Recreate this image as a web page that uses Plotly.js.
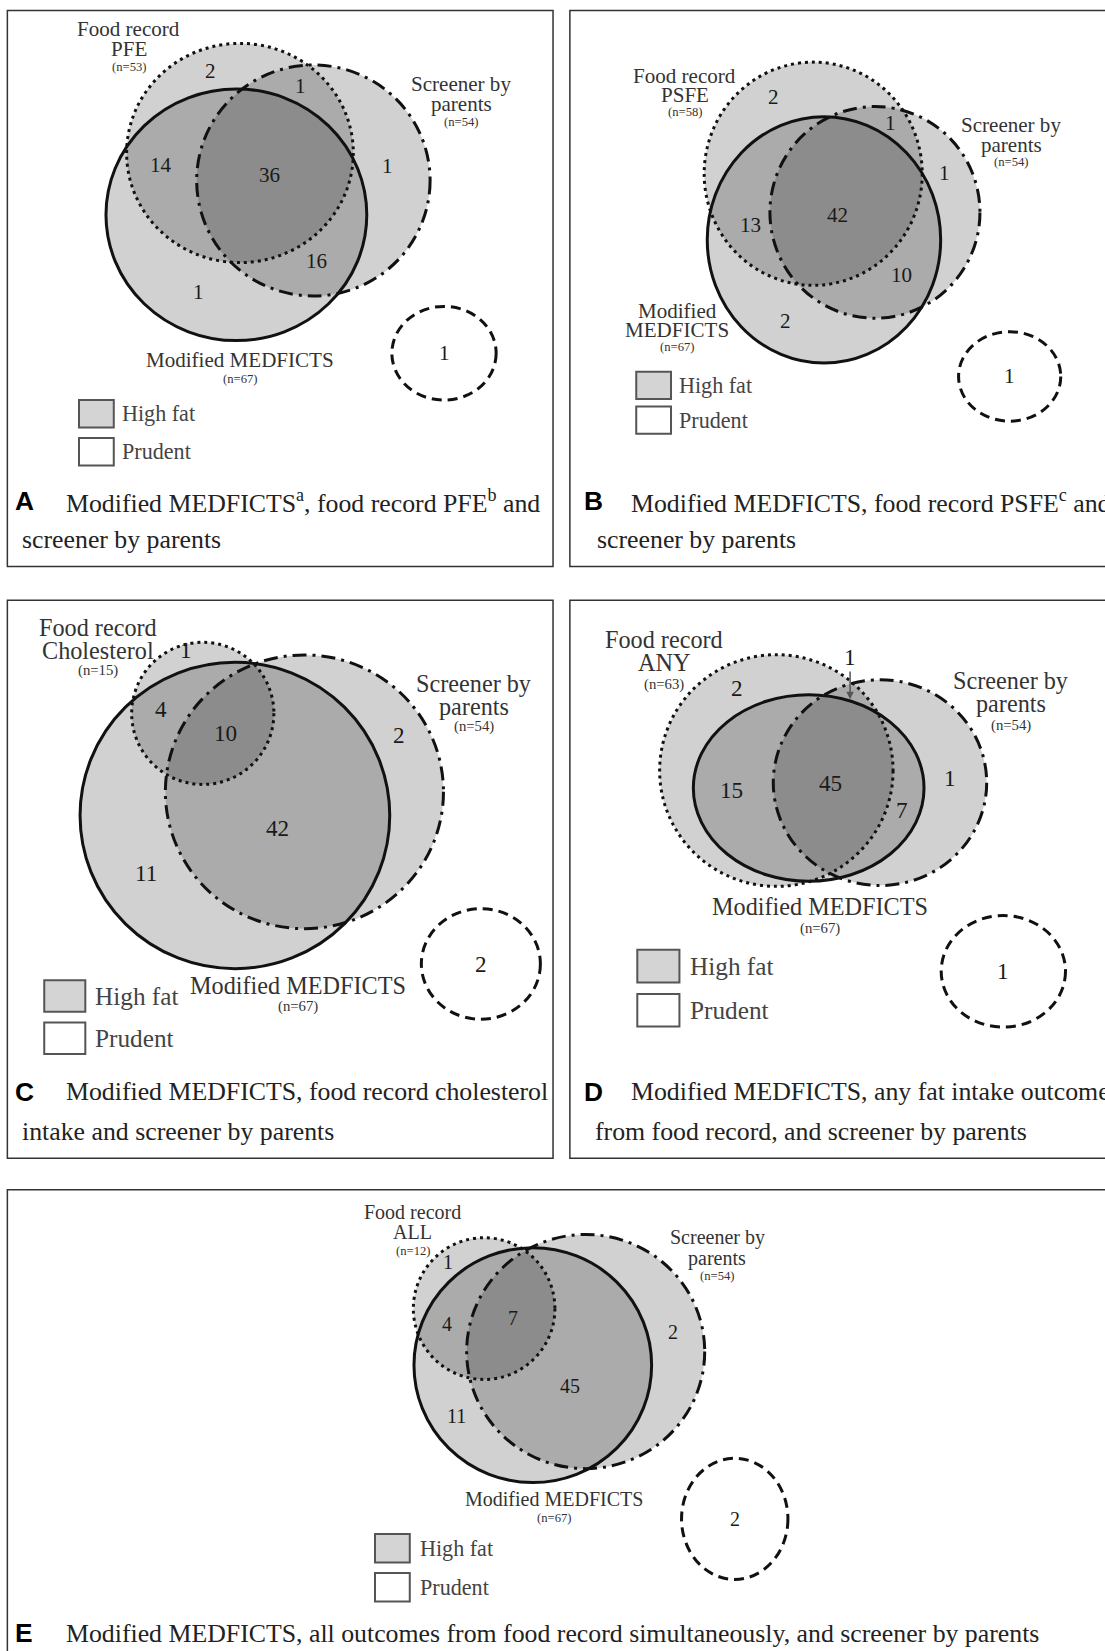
<!DOCTYPE html>
<html><head><meta charset="utf-8">
<script src="https://cdn.plot.ly/plotly-3.0.1.min.js"></script>
<style>html,body{margin:0;padding:0;background:#fff}</style>
</head><body><div id="chart" style="width:1105px;height:1651px"></div>
<script>
// ---------------- data ----------------
const panelLetters = ['A', 'B', 'C', 'D', 'E'];
const foodRecordNames = ['PFE', 'PSFE', 'Cholesterol', 'ANY', 'ALL'];
const nFoodRecord = [53, 58, 15, 63, 12];
const nScreener = [54, 54, 54, 54, 54];
const nMedficts = [67, 67, 67, 67, 67];
const countsA = [2, 1, 14, 36, 1, 16, 1];
const countsB = [2, 1, 13, 42, 1, 10, 2];
const countsC = [1, 4, 10, 2, 42, 11];
const countsD = [2, 1, 15, 45, 7, 1];
const countsE = [1, 4, 7, 2, 45, 11];
const prudentCounts = [1, 1, 2, 1, 2];
const legendLabels = ['High fat', 'Prudent'];
const captionLine1 = [
  'Modified MEDFICTS<sup>a</sup>, food record PFE<sup>b</sup> and',
  'Modified MEDFICTS, food record PSFE<sup>c</sup> and',
  'Modified MEDFICTS, food record cholesterol',
  'Modified MEDFICTS, any fat intake outcome',
  'Modified MEDFICTS, all outcomes from food record simultaneously, and screener by parents'
];
const captionLine2 = [
  'screener by parents',
  'screener by parents',
  'intake and screener by parents',
  'from food record, and screener by parents',
  ''
];
const allCounts = [countsA, countsB, countsC, countsD, countsE];

// ---------------- layout configuration (positions / styles) ----------------
const cfg = [
  { frame: [7, 10, 525, 538],
    fr: [227.8, 145.3, 107.6, 104.1], sc: [297.5, 171.4, 110.8, 109.7], md: [224.4, 204, 123.8, 119.5], pr: [421.5, 335.5, 49.5, 44.5],
    countPos: [[200, 67], [285, 82], [153, 157], [256, 166], [368, 158], [300, 248], [188, 277]],
    frLab: [122, [28, 47, 64]], scLab: [438, [80, 99, 116]], mdLab: [228, [342, 360]], mdSplit: false,
    leg: [75, 108, [380, 416], 26, 115],
    cap: [13, 62, 476, 20, 512],
    fs: { label: 20, n: 12, count: 20, legend: 21 } },
  { frame: [541, 10, 1070, 538],
    fr: [772, 165, 103.5, 106], sc: [830.6, 201.7, 99.7, 100.5], md: [782.2, 227.8, 110.8, 117], pr: [958.5, 357.5, 48.5, 42.5],
    countPos: [[734, 92], [845, 117], [712, 214], [795, 204], [897, 164], [856, 261], [746, 305]],
    frLab: [650, [72, 90, 106]], scLab: [960, [119, 138, 154]], mdLab: [643, [295, 313, 330]], mdSplit: true,
    leg: [604, 637, [353, 386], 26, 644],
    cap: [553, 598, 476, 566, 512],
    fs: { label: 20, n: 12, count: 20, legend: 21 } },
  { frame: [7, 570, 525, 1100],
    fr: [192.5, 677.5, 67.5, 67.5], sc: [289, 752, 132, 130], md: [223, 774.5, 147, 145.5], pr: [456.5, 915.5, 56.5, 52.5],
    countPos: [[177, 617], [153, 673], [214, 696], [379, 698], [263, 786], [139, 829]],
    frLab: [93, [596, 618, 637]], scLab: [450, [649, 671, 690]], mdLab: [283, [936, 956]], mdSplit: false,
    leg: [42, 81, [931, 971], 30, 89],
    cap: [13, 62, 1037, 20, 1075],
    fs: { label: 23, n: 14, count: 22, legend: 24 } },
  { frame: [541, 570, 1070, 1100],
    fr: [737, 731.8, 110.8, 110], sc: [835.4, 743.3, 101.3, 97.7], md: [767.7, 748.4, 109.5, 88.6], pr: [952.5, 922.5, 59, 53],
    countPos: [[700, 653], null, [694.5, 750], [788, 743.5], [856, 769], [902, 739]],
    arrowOne: [807, 624, 807, 664],
    frLab: [630, [607, 629, 650]], scLab: [960, [646, 668, 689]], mdLab: [778, [861, 882]], mdSplit: false,
    leg: [605, 645, [902, 944], 31, 654],
    cap: [553, 598, 1037, 564, 1075],
    fs: { label: 23, n: 14, count: 22, legend: 24 } },
  { frame: [7, 1130, 1070, 1590],
    fr: [459.6, 1242.8, 67.2, 67.3], sc: [556, 1283.6, 113, 111.2], md: [505.8, 1296.5, 112.8, 111.5], pr: [697.5, 1442.5, 50.5, 57.5],
    countPos: [[425.5, 1199], [424, 1257.5], [487.3, 1251.5], [639.2, 1265.5], [541, 1316.5], [433, 1345]],
    frLab: [392, [1151, 1170, 1188]], scLab: [681, [1175, 1195, 1212]], mdLab: [526, [1424, 1442]], mdSplit: false,
    leg: [356, 389, [1457, 1494], 27, 398],
    cap: [13, 62, 1551, 20, 0],
    fs: { label: 19, n: 12, count: 19, legend: 21 } }
];

const SERIF = 'Liberation Serif, Times New Roman, serif';
const SANS = 'Liberation Sans, Arial, sans-serif';
const FILL = 'rgba(0,0,0,0.18)';
const LINE = '#111';
const K = 1105 / 1049; // font scale to page pixels
const CAPSIZE = 24.5;

const shapes = [];
const annotations = [];

function ell(c, extra) {
  return Object.assign({ type: 'circle', xref: 'x', yref: 'y',
    x0: c[0] - c[2], x1: c[0] + c[2], y0: c[1] - c[3], y1: c[1] + c[3] }, extra);
}
function txt(x, y, text, size, color, family, xanchor, weight) {
  annotations.push({ x: x, y: y, xref: 'x', yref: 'y', text: text, showarrow: false,
    xanchor: xanchor || 'center', yanchor: 'middle', borderpad: 0,
    font: { family: family || SERIF, size: size, color: color, weight: weight || 'normal' } });
}

cfg.forEach((p, i) => {
  // frame
  shapes.push({ type: 'rect', xref: 'x', yref: 'y', x0: p.frame[0], y0: p.frame[1], x1: p.frame[2], y1: p.frame[3],
    line: { color: '#333', width: 1.5 }, fillcolor: 'rgba(0,0,0,0)' });
  // fills
  [p.fr, p.sc, p.md].forEach(c => shapes.push(ell(c, { fillcolor: FILL, line: { width: 0 } })));
  // outlines
  shapes.push(ell(p.fr, { line: { color: LINE, width: 3, dash: '3px,4px' } }));
  shapes.push(ell(p.sc, { line: { color: LINE, width: 3, dash: '14px,6px,3px,6px' } }));
  shapes.push(ell(p.md, { line: { color: LINE, width: 3 } }));
  shapes.push(ell(p.pr, { fillcolor: '#fff', line: { color: LINE, width: 3, dash: '10px,6px' } }));

  const fs = p.fs;
  // set labels
  txt(p.frLab[0], p.frLab[1][0], 'Food record', fs.label * K, '#333');
  txt(p.frLab[0], p.frLab[1][1], foodRecordNames[i], fs.label * K, '#333');
  txt(p.frLab[0], p.frLab[1][2], '(n=' + nFoodRecord[i] + ')', fs.n * K, '#333');
  txt(p.scLab[0], p.scLab[1][0], 'Screener by', fs.label * K, '#333');
  txt(p.scLab[0], p.scLab[1][1], 'parents', fs.label * K, '#333');
  txt(p.scLab[0], p.scLab[1][2], '(n=' + nScreener[i] + ')', fs.n * K, '#333');
  if (p.mdSplit) {
    txt(p.mdLab[0], p.mdLab[1][0], 'Modified', fs.label * K, '#333');
    txt(p.mdLab[0], p.mdLab[1][1], 'MEDFICTS', fs.label * K, '#333');
    txt(p.mdLab[0], p.mdLab[1][2], '(n=' + nMedficts[i] + ')', fs.n * K, '#333');
  } else {
    txt(p.mdLab[0], p.mdLab[1][0], 'Modified MEDFICTS', fs.label * K, '#333');
    txt(p.mdLab[0], p.mdLab[1][1], '(n=' + nMedficts[i] + ')', fs.n * K, '#333');
  }
  // region counts
  allCounts[i].forEach((v, j) => {
    const pos = p.countPos[j];
    if (pos) txt(pos[0], pos[1], String(v), fs.count * K, '#1a1a1a');
  });
  if (p.arrowOne) {
    const a = p.arrowOne;
    const idx = p.countPos.indexOf(null);
    annotations.push({ x: a[2], y: a[3], xref: 'x', yref: 'y', axref: 'x', ayref: 'y', ax: a[0], ay: a[1],
      text: String(allCounts[i][idx]), showarrow: true, arrowhead: 2, arrowsize: 1, arrowwidth: 1.5,
      arrowcolor: '#555', standoff: 0, startstandoff: 0,
      font: { family: SERIF, size: fs.count * K, color: '#1a1a1a' } });
  }
  txt(p.pr[0], p.pr[1], String(prudentCounts[i]), fs.count * K, '#1a1a1a');
  // legend
  const L = p.leg;
  L[2].forEach((y0, j) => {
    shapes.push({ type: 'rect', xref: 'x', yref: 'y', x0: L[0], x1: L[1], y0: y0, y1: y0 + L[3],
      line: { color: '#555', width: 2 }, fillcolor: j === 0 ? '#d4d4d4' : '#fff' });
    txt(L[4], y0 + L[3] / 2, legendLabels[j], fs.legend * K, '#444', SERIF, 'left');
  });
  // caption
  const c = p.cap;
  txt(c[0], c[2], panelLetters[i], 25 * K, '#000', SANS, 'left', 'bold');
  txt(c[1], c[2], captionLine1[i], CAPSIZE * K, '#222', SERIF, 'left');
  if (captionLine2[i]) txt(c[3], c[4], captionLine2[i], CAPSIZE * K, '#222', SERIF, 'left');
});

const layout = {
  width: 1105, height: 1651,
  margin: { l: 0, r: 0, t: 0, b: 0, pad: 0 },
  paper_bgcolor: '#fff', plot_bgcolor: '#fff',
  xaxis: { range: [0, 1049], visible: false, fixedrange: true },
  yaxis: { range: [1568, 0], visible: false, fixedrange: true },
  showlegend: false,
  shapes: shapes,
  annotations: annotations
};
Plotly.newPlot('chart', [], layout, { staticPlot: true, displayModeBar: false });
</script>
</body></html>
